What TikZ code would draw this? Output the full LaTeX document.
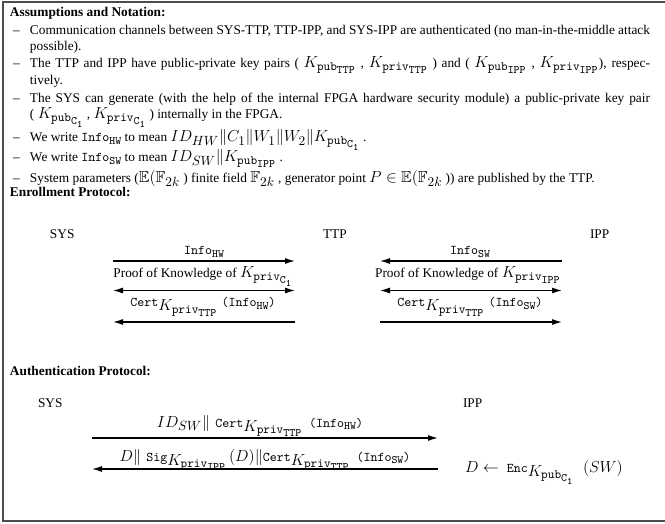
\documentclass[tikz,border=0pt]{standalone}
\usepackage{amsmath,amssymb}
\usepackage[no-math]{fontspec}
\setmainfont{Liberation Serif}
\usetikzlibrary{arrows.meta}
\newcommand{\sbA}[1]{\mbox{\fontsize{9.5}{11}\selectfont\ttfamily #1}}
\newcommand{\sbB}[1]{\mbox{\fontsize{8.5}{10}\selectfont\ttfamily #1}}
\newcommand{\cone}{C\raisebox{-1.8pt}{\fontsize{7.5}{8}\selectfont 1}}
\newcommand{\mK}[2]{{\large$K_{\sbA{#1}_{\sbB{#2}}}$}}
\newcommand{\lK}[2]{\raisebox{-3pt}{\mK{#1}{#2}}}
\newcommand{\tinfo}[1]{\texttt{Info}\raisebox{-2.2pt}{\fontsize{8.5}{10}\selectfont\ttfamily #1}}
\newcommand{\bsub}[1]{\mbox{\fontsize{10}{12}\selectfont$#1$}}
\begin{document}
\begin{tikzpicture}[x=0.75pt,y=-0.75pt,
  txt/.style={anchor=base west,inner sep=0pt,outer sep=0pt},
  lbl/.style={anchor=base,inner sep=0pt,outer sep=0pt},
  head/.style={txt,font=\bfseries},
  msg/.style={line width=0.9pt,-{Latex[length=7.5pt,width=4.5pt]}},
  dmsg/.style={line width=0.9pt,{Latex[length=7.5pt,width=4.5pt]}-{Latex[length=7.5pt,width=4.5pt]}},
  frame/.style={line width=1pt,black!70}]
\useasboundingbox (0,0) rectangle (665,524);
\draw[frame] (665,2) -- (3,2) -- (3,521) -- (665,521);
% Assumptions
\node[head] (h1) at (10,17) {Assumptions and Notation:};
\node[txt] (d1) at (13,35) {--};
\node[txt] (l1) at (30,35) {\makebox[465pt][s]{Communication channels between SYS-TTP, TTP-IPP, and SYS-IPP are authenticated (no man-in-the-middle attack}};
\node[txt] (l1b) at (30,51) {possible).};
\node[txt] (d2) at (13,68) {--};
\node[txt] (l2) at (30,68) {\makebox[465pt][s]{The TTP and IPP have public-private key pairs ( \mK{pub}{TTP} , \mK{priv}{TTP} ) and ( \mK{pub}{IPP} , \mK{priv}{IPP}), respec-}};
\node[txt] (l2b) at (30,85) {tively.};
\node[txt] (d3) at (13,103) {--};
\node[txt] (l3) at (30,103) {\makebox[465pt][s]{The SYS can generate (with the help of the internal FPGA hardware security module) a public-private key pair}};
\node[txt] (l3b) at (30,119) {( \mK{pub}{\cone} , \mK{priv}{\cone} ) internally in the FPGA.};
\node[txt] (d4) at (13,142) {--};
\node[txt] (l4) at (30,142) {We write \tinfo{HW} to mean {\large$ID_{\bsub{HW}}\|C_{\bsub{1}}\|W_{\bsub{1}}\|W_{\bsub{2}}\|K_{\sbA{pub}_{\sbB{\cone}}}$} .};
\node[txt] (d5) at (13,162) {--};
\node[txt] (l5) at (30,162) {We write \tinfo{SW} to mean {\large$ID_{\bsub{SW}}\|K_{\sbA{pub}_{\raisebox{1pt}{\sbB{IPP}}}}$} .};
\node[txt] (d6) at (13,183) {--};
\node[txt] (l6) at (30,183) {System parameters ({\large$\mathbb{E}(\mathbb{F}_{\bsub{2k}}$} ) finite field {\large$\mathbb{F}_{\bsub{2k}}$} , generator point {\large$P\in\mathbb{E}(\mathbb{F}_{\bsub{2k}}$} )) are published by the TTP.};
% Enrollment
\node[head] (h2) at (10,197) {Enrollment Protocol:};
\node[txt] (sys1) at (50,239) {SYS};
\node[txt] (ttp) at (323,239) {TTP};
\node[txt] (ipp1) at (590,239) {IPP};
\coordinate (eL1a) at (113,261); \coordinate (eL1b) at (295,261);
\coordinate (eL2a) at (113,290.5); \coordinate (eL2b) at (295,290.5);
\coordinate (eL3a) at (113,322); \coordinate (eL3b) at (295,322);
\coordinate (eR1a) at (380,261); \coordinate (eR1b) at (562,261);
\coordinate (eR2a) at (380,290.5); \coordinate (eR2b) at (562,290.5);
\coordinate (eR3a) at (380,322); \coordinate (eR3b) at (562,322);
\draw[msg] (eL1a) -- (eL1b);
\draw[dmsg] (eL2a) -- (eL2b);
\draw[msg] (eL3b) -- (eL3a);
\draw[msg] (eR1b) -- (eR1a);
\draw[dmsg] (eR2a) -- (eR2b);
\draw[msg] (eR3a) -- (eR3b);
\node[lbl] (m1) at (204,255) {\tinfo{HW}};
\node[lbl] (m2) at (203,278) {Proof of Knowledge of \mK{priv}{\cone}};
\node[lbl] (m3) at (203,307) {\texttt{Cert}\lK{priv}{TTP}\hspace{3pt}\texttt{(}\tinfo{HW}\texttt{)}};
\node[lbl] (m4) at (470,255) {\tinfo{SW}};
\node[lbl] (m5) at (468,278) {Proof of Knowledge of \mK{priv}{IPP}};
\node[lbl] (m6) at (470,307) {\texttt{Cert}\lK{priv}{TTP}\hspace{3pt}\texttt{(}\tinfo{SW}\texttt{)}};
% Authentication
\node[head] (h3) at (10,376) {Authentication Protocol:};
\node[txt] (sys2) at (38,407) {SYS};
\node[txt] (ipp2) at (463,407) {IPP};
\coordinate (a1a) at (92,438); \coordinate (a1b) at (438,438);
\coordinate (a2a) at (92,469); \coordinate (a2b) at (438,469);
\draw[msg] (a1a) -- (a1b);
\draw[msg] (a2b) -- (a2a);
\node[lbl] (m7) at (260,427) {{\large$ID_{\bsub{SW}}\|$}\hspace{4pt}\texttt{Cert}\lK{priv}{TTP}\hspace{5pt}\texttt{(}\tinfo{HW}\texttt{)}};
\node[lbl] (m8) at (265,461) {{\large$D\|$}\hspace{4pt}\texttt{Sig}\lK{priv}{IPP}\hspace{2pt}{\large$(D)\|$}\texttt{Cert}\lK{priv}{TTP}\hspace{5pt}\texttt{(}\tinfo{SW}\texttt{)}};
\node[txt] (enc) at (465,472) {{\large$D\leftarrow$}\hspace{6pt}\texttt{Enc}\lK{pub}{\cone}\hspace{7pt}{\large$(SW)$}};
\end{tikzpicture}
\end{document}
